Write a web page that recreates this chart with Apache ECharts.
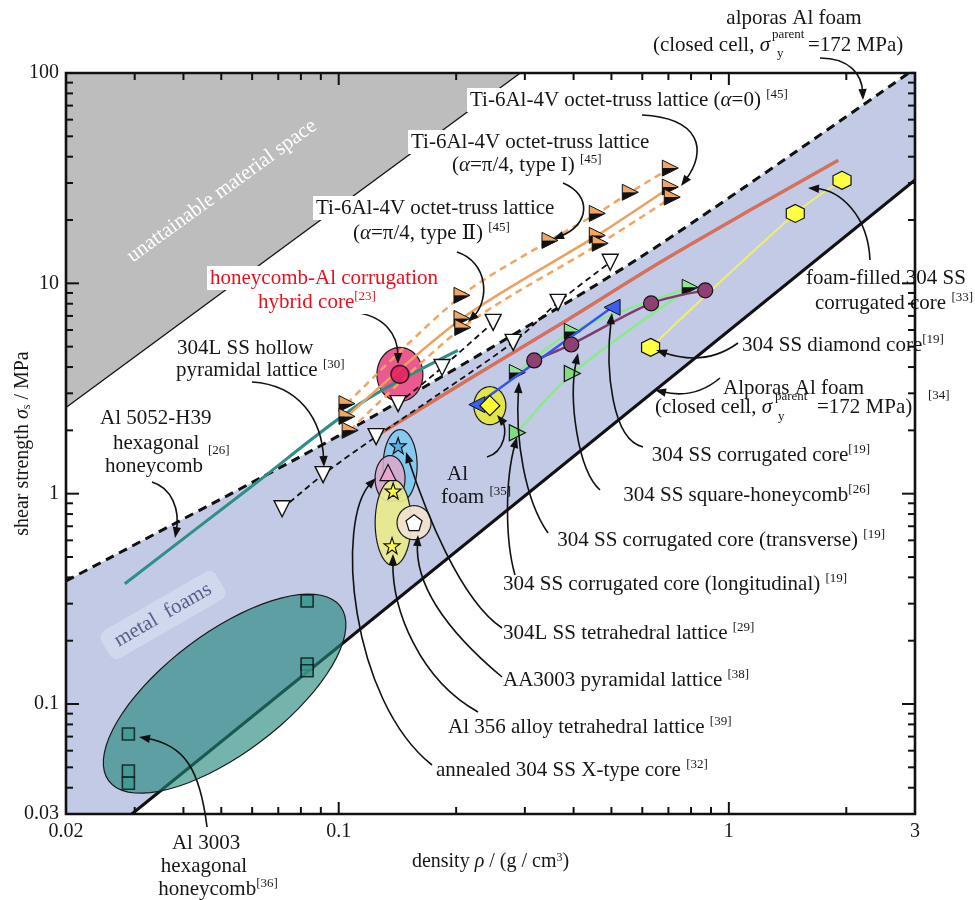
<!DOCTYPE html>
<html>
<head>
<meta charset="utf-8">
<script src="https://cdn.jsdelivr.net/npm/echarts@6/dist/echarts.min.js"></script>
<style>
html, body { margin: 0; padding: 0; background: #fff; }
#chart { width: 975px; height: 900px; }
</style>
</head>
<body>
<div id="chart"></div>
<script>
const SERIF = '"Liberation Serif", "Times New Roman", "DejaVu Serif", serif';
const INK = '#161616';

// ---- axes -------------------------------------------------------------
const densityRange = [0.02, 3];
const strengthRange = [0.03, 100];
const densityTickLabels = [0.02, 0.1, 1, 3];
const strengthTickLabels = [0.03, 0.1, 1, 10, 100];
const densityMajorTicks = [0.1, 1];
const densityMinorTicks = [0.03, 0.04, 0.05, 0.06, 0.07, 0.08, 0.09, 0.2, 0.3, 0.4, 0.5, 0.6, 0.7, 0.8, 0.9, 2];
const strengthMajorTicks = [0.1, 1, 10];
const strengthMinorTicks = [0.04, 0.05, 0.06, 0.07, 0.08, 0.09, 0.2, 0.3, 0.4, 0.5, 0.6, 0.7, 0.8, 0.9,
  2, 3, 4, 5, 6, 7, 8, 9, 20, 30, 40, 50, 60, 70, 80, 90];

// ---- envelopes --------------------------------------------------------
const unattainableEdge = [[0.02, 2.57], [0.292, 100]];
const alporasUpper = [[0.02, 0.385], [0.0259, 0.495], [0.1135, 2.15], [0.593, 13.3], [3, 105]];
const alporasLower = [[0.0295, 0.03], [3, 31]];

// ---- material data (density g/cm3, shear strength MPa) ----------------
const al3003Honeycomb = [[0.0289, 0.072], [0.0289, 0.048], [0.0289, 0.042], [0.083, 0.309], [0.083, 0.155], [0.083, 0.144]];
const al3003Centre = [[0.051, 0.112]];
const al5052Honeycomb = [[0.0283, 0.373], [0.0593, 1.07], [0.1135, 2.68], [0.202, 4.8]];
const hybridCore = [[0.1435, 3.69]];
const tiTypeI = [[0.105, 2.68], [0.207, 8.77], [0.348, 16.0], [0.46, 21.5], [0.559, 27.1], [0.708, 35.3]];
const tiAlpha0 = [[0.105, 2.33], [0.207, 6.81], [0.46, 16.9], [0.708, 28.7]];
const tiTypeII = [[0.107, 2.0], [0.208, 6.17], [0.468, 15.5], [0.716, 25.7]];
const hollowPyramidalA = [[0.0716, 0.848], [0.0912, 1.232], [0.1247, 1.868], [0.28, 5.24], [0.365, 8.12], [0.4965, 12.6]];
const hollowPyramidalB = [[0.142, 2.68], [0.1841, 3.98], [0.2488, 6.52]];
const foamFilledCorrugated = [[0.1218, 1.83], [0.2172, 3.53], [0.376, 6.52], [0.667, 12.6], [1.134, 22.3], [1.908, 38.5]];
const diamondCore = [[0.63, 4.96], [1.48, 21.5], [1.95, 30.9]];
const squareHoneycomb = [[0.317, 4.3], [0.3945, 5.12], [0.632, 8.03], [0.87, 9.26]];
const corrugatedCore = [[0.226, 2.65], [0.502, 7.69]];
const corrugatedTransverse = [[0.287, 3.77], [0.397, 5.91], [0.796, 9.57]];
const corrugatedLongitudinal = [[0.287, 1.95], [0.397, 3.73], [0.796, 9.57]];
const alFoam = [[0.244, 2.62]];
const tetrahedral304L = [[0.142, 1.69]];
const tetrahedral304LCentre = [[0.1437, 1.36]];
const pyramidalAA3003 = [[0.1338, 1.26]];
const pyramidalAA3003Centre = [[0.1354, 1.18]];
const tetrahedralAl356 = [[0.1379, 1.03], [0.137, 0.566]];
const tetrahedralAl356Centre = [[0.1379, 0.728]];
const xTypeCore = [[0.156, 0.728]];

// ---- symbols ----------------------------------------------------------
const STAR = 'path://M0,-10 L2.35,-3.24 9.51,-3.09 3.8,1.24 5.88,8.09 0,4 -5.88,8.09 -3.8,1.24 -9.51,-3.09 -2.35,-3.24 Z';
const PENTAGON = 'path://M0,-10 L9.51,-3.09 5.88,8.09 -5.88,8.09 -9.51,-3.09 Z';
const HEXAGON = 'path://M0,-10 L8.66,-5 8.66,5 0,10 -8.66,5 -8.66,-5 Z';

// drawing layers
const Z_BAND = 1, Z_REGION = 2, Z_LINE = 3, Z_MARK = 4, Z_FRAME = 30;

function ellipsePoints(cx, cy, rx, ry, rotDeg) {
  const a = rotDeg * Math.PI / 180, pts = [];
  for (let k = 0; k < 72; k++) {
    const t = k / 72 * Math.PI * 2;
    const ex = rx * Math.cos(t), ey = ry * Math.sin(t);
    pts.push([cx + ex * Math.cos(a) + ey * Math.sin(a), cy - ex * Math.sin(a) + ey * Math.cos(a)]);
  }
  return pts;
}

function regionSeries(name, centre, look) {
  return {
    name, type: 'custom', silent: true, z: Z_REGION, data: centre,
    renderItem(params, api) {
      const c = api.coord([api.value(0), api.value(1)]);
      return {
        type: 'polygon',
        shape: { points: ellipsePoints(c[0], c[1], look.rx, look.ry, look.rot || 0) },
        style: { fill: look.fill, stroke: '#1a1a1a', lineWidth: look.lw || 1.2 }
      };
    }
  };
}

function splitTriangleSeries(name, points, topColor, half) {
  return {
    name, type: 'custom', silent: true, z: Z_MARK, data: points,
    renderItem(params, api) {
      const p = api.coord([api.value(0), api.value(1)]);
      const x = p[0], y = p[1], w = half, h = half;
      return {
        type: 'group', children: [
          { type: 'polygon', shape: { points: [[x - w, y - h], [x + w, y], [x - w, y]] }, style: { fill: topColor } },
          { type: 'polygon', shape: { points: [[x - w, y], [x + w, y], [x - w, y + h]] }, style: { fill: '#111' } },
          { type: 'polygon', shape: { points: [[x - w, y - h], [x + w, y], [x - w, y + h]] }, style: { fill: 'none', stroke: '#111', lineWidth: 1 } }
        ]
      };
    }
  };
}

function polySeries(name, corners, look) {
  return {
    name, type: 'custom', silent: true, z: Z_BAND, data: [corners[0]],
    renderItem(params, api) {
      return { type: 'polygon', shape: { points: corners.map(c => api.coord(c)) }, style: look };
    }
  };
}

function tickSeries(values, dir, len) {
  return {
    type: 'custom', silent: true, clip: false, z: Z_FRAME,
    data: values.map(v => dir === 'x' ? [v, strengthRange[0]] : [densityRange[0], v]),
    renderItem(params, api) {
      const cs = params.coordSys;
      const p = api.coord([api.value(0), api.value(1)]);
      const st = { stroke: '#111', lineWidth: 2 };
      if (dir === 'x') {
        const b = cs.y + cs.height, t = cs.y;
        return { type: 'group', children: [
          { type: 'line', shape: { x1: p[0], y1: b, x2: p[0], y2: b - len }, style: st },
          { type: 'line', shape: { x1: p[0], y1: t, x2: p[0], y2: t + len }, style: st }] };
      }
      const l = cs.x, r = cs.x + cs.width;
      return { type: 'group', children: [
        { type: 'line', shape: { x1: l, y1: p[1], x2: l + len, y2: p[1] }, style: st },
        { type: 'line', shape: { x1: r, y1: p[1], x2: r - len, y2: p[1] }, style: st }] };
    }
  };
}

function lineSeries(name, data, color, width, extra) {
  return Object.assign({
    name, type: 'line', data, symbol: 'none', smooth: 0.3, silent: true, showAllSymbol: true, z: Z_LINE,
    lineStyle: { color, width }
  }, extra || {});
}

function scatterSeries(name, data, symbol, size, fill, extra) {
  return Object.assign({
    name, type: 'scatter', data, symbol, symbolSize: size, silent: true, z: Z_MARK,
    itemStyle: { color: fill, borderColor: '#111', borderWidth: 1.2, opacity: 1 }
  }, extra || {});
}

// ---- annotation text and arrows ---------------------------------------
function rich(color) {
  return {
    i: { fontStyle: 'italic', fontSize: 21, fontFamily: SERIF, fill: color },
    sup: { fontSize: 13, fontFamily: SERIF, fill: color, verticalAlign: 'top', lineHeight: 13 },
    sub: { fontSize: 13, fontFamily: SERIF, fill: color, verticalAlign: 'bottom', lineHeight: 13 }
  };
}

function label(x, y, text, o) {
  o = o || {};
  const color = o.color || INK;
  const align = o.align || 'left';
  const style = {
    text, fill: color, fontSize: o.size || 21, fontFamily: SERIF, fontStyle: o.italic ? 'italic' : 'normal',
    textAlign: align, align, textVerticalAlign: 'middle', verticalAlign: 'middle',
    lineHeight: o.lineHeight || 24, rich: rich(color)
  };
  if (o.bg) { style.backgroundColor = o.bg; style.padding = o.pad || [0, 3]; if (o.radius) style.borderRadius = o.radius; }
  return { type: 'text', x, y, z: 45, silent: true, rotation: (o.rot || 0) * Math.PI / 180, style };
}

function arrow(p0, c1, c2, p1) {
  const dx = p1[0] - c2[0], dy = p1[1] - c2[1];
  const L = Math.hypot(dx, dy) || 1, ux = dx / L, uy = dy / L;
  const hl = 11, hw = 4.2;
  const bx = p1[0] - ux * hl * 0.7, by = p1[1] - uy * hl * 0.7;
  const hx = p1[0] - ux * hl, hy = p1[1] - uy * hl;
  return [
    { type: 'bezierCurve', z: 44, silent: true,
      shape: { x1: p0[0], y1: p0[1], cpx1: c1[0], cpy1: c1[1], cpx2: c2[0], cpy2: c2[1], x2: bx, y2: by },
      style: { stroke: '#111', lineWidth: 1.6, fill: null } },
    { type: 'polygon', z: 44, silent: true,
      shape: { points: [[p1[0], p1[1]], [hx - uy * hw, hy + ux * hw], [hx + uy * hw, hy - ux * hw]] },
      style: { fill: '#111' } }
  ];
}

const annotations = [
  label(794, 18, 'alporas Al foam', { align: 'center' }),
  label(770, 45, '(closed cell, {i|σ}', { align: 'right' }),
  label(772, 35, 'parent', { size: 13 }),
  label(777, 54, 'y', { size: 13 }),
  label(808, 45, '=172 MPa)'),
  label(467, 100, 'Ti-6Al-4V octet-truss lattice ({i|α}=0) {sup|[45]}', { bg: '#fff' }),
  label(408, 142, 'Ti-6Al-4V octet-truss lattice', { bg: '#fff' }),
  label(452, 165, '({i|α}=π/4, type I) {sup|[45]}'),
  label(313, 208, 'Ti-6Al-4V octet-truss lattice', { bg: '#fff' }),
  label(353, 233, '({i|α}=π/4, type Ⅱ) {sup|[45]}'),
  label(207, 278, 'honeycomb-Al corrugation', { color: '#e8101c', bg: '#fff' }),
  label(255, 302, 'hybrid core{sup|[23]}', { color: '#e8101c', bg: '#fff' }),
  label(177, 348, '304L SS hollow'),
  label(176, 370, 'pyramidal lattice {sup|[30]}'),
  label(100, 418, 'Al 5052-H39'),
  label(113, 443, 'hexagonal'),
  label(208, 451, '[26]', { size: 13 }),
  label(105, 466, 'honeycomb'),
  label(447, 474, 'Al'),
  label(441, 497, 'foam {sup|[35]}'),
  label(806, 278, 'foam-filled 304 SS'),
  label(815, 303, 'corrugated core {sup|[33]}'),
  label(742, 345, '304 SS diamond core{sup|[19]}'),
  label(723, 388, 'Alporas Al foam'),
  label(772, 407, '(closed cell, {i|σ}', { align: 'right' }),
  label(775, 397, 'parent', { size: 13 }),
  label(778, 417, 'y', { size: 13 }),
  label(817, 407, '=172 MPa)'),
  label(928, 396, '[34]', { size: 13 }),
  label(870, 455, '304 SS corrugated core{sup|[19]}', { align: 'right' }),
  label(870, 495, '304 SS square-honeycomb{sup|[26]}', { align: 'right' }),
  label(885, 540, '304 SS corrugated core (transverse) {sup|[19]}', { align: 'right' }),
  label(503, 584, '304 SS corrugated core (longitudinal) {sup|[19]}'),
  label(503, 633, '304L SS tetrahedral lattice {sup|[29]}'),
  label(503, 680, 'AA3003 pyramidal lattice {sup|[38]}'),
  label(448, 727, 'Al 356 alloy tetrahedral lattice {sup|[39]}'),
  label(436, 770, 'annealed 304 SS X-type core {sup|[32]}'),
  label(206, 843, 'Al 3003', { align: 'center' }),
  label(204, 866, 'hexagonal', { align: 'center' }),
  label(218, 889, 'honeycomb{sup|[36]}', { align: 'center' }),
  label(222, 191, 'unattainable material space', { color: '#ffffff', align: 'center', rot: 36 }),
  label(163, 615, 'metal  foams', { color: '#56608a', align: 'center', rot: 30,
    bg: 'rgba(255,255,255,0.25)', pad: [4, 12], radius: 8 })
].concat(
  arrow([820, 58], [850, 58], [862, 75], [863, 100]),
  arrow([642, 115], [700, 118], [708, 150], [681, 186]),
  arrow([563, 183], [592, 195], [590, 225], [553, 239]),
  arrow([457, 252], [488, 262], [490, 300], [468, 322]),
  arrow([352, 312], [385, 315], [398, 335], [398, 364]),
  arrow([252, 382], [300, 385], [322, 420], [324, 467]),
  arrow([152, 482], [172, 488], [180, 510], [175, 538]),
  arrow([487, 457], [505, 452], [508, 428], [497, 415]),
  arrow([870, 260], [868, 215], [840, 190], [808, 188]),
  arrow([738, 343], [712, 362], [685, 360], [656, 350]),
  arrow([720, 378], [700, 395], [680, 396], [655, 390]),
  arrow([643, 447], [612, 440], [605, 370], [612, 313]),
  arrow([600, 490], [578, 470], [568, 400], [578, 353]),
  arrow([548, 533], [525, 500], [515, 440], [519, 382]),
  arrow([515, 575], [505, 540], [505, 480], [517, 437]),
  arrow([502, 628], [460, 600], [425, 510], [406, 452]),
  arrow([502, 677], [440, 625], [415, 580], [418, 535]),
  arrow([478, 712], [420, 680], [392, 610], [393, 554]),
  arrow([432, 765], [350, 700], [335, 520], [376, 478]),
  arrow([207, 827], [200, 770], [185, 745], [139, 737])
);

// ---- chart ------------------------------------------------------------
function tickFormatter(list) {
  return function (v) {
    const hit = list.find(t => Math.abs(Math.log10(t) - Math.log10(v)) < 0.01);
    return hit === undefined ? '' : String(hit);
  };
}

const axisText = { fontFamily: SERIF, fontSize: 20, color: INK };

const option = {
  animation: false,
  backgroundColor: '#ffffff',
  grid: { left: 66, right: 60, top: 73, bottom: 86, containLabel: false, outerBoundsMode: 'none' },
  xAxis: {
    type: 'log', logBase: 10, min: densityRange[0], max: densityRange[1],
    axisLine: { show: false }, axisTick: { show: false }, splitLine: { show: false }, minorTick: { show: false },
    axisLabel: Object.assign({ margin: 8, formatter: tickFormatter(densityTickLabels), showMinLabel: true, showMaxLabel: true }, axisText),
    name: 'density {i|ρ} / (g / cm{sup|3})', nameLocation: 'middle', nameGap: 38, nameMoveOverlap: false,
    nameTextStyle: { fontFamily: SERIF, fontSize: 20, color: INK,
      rich: { i: { fontFamily: SERIF, fontSize: 20, fontStyle: 'italic', color: INK },
              sup: { fontFamily: SERIF, fontSize: 12, color: INK, verticalAlign: 'top', lineHeight: 12 } } }
  },
  yAxis: {
    type: 'log', logBase: 10, min: strengthRange[0], max: strengthRange[1],
    axisLine: { show: false }, axisTick: { show: false }, splitLine: { show: false }, minorTick: { show: false },
    axisLabel: Object.assign({ margin: 7, formatter: tickFormatter(strengthTickLabels), showMinLabel: true, showMaxLabel: true }, axisText),
    name: 'shear strength {i|σ}{sub|s} / MPa', nameLocation: 'middle', nameGap: 33, nameRotate: 90, nameMoveOverlap: false,
    nameTextStyle: { fontFamily: SERIF, fontSize: 20, color: INK,
      rich: { i: { fontFamily: SERIF, fontSize: 20, fontStyle: 'italic', color: INK },
              sub: { fontFamily: SERIF, fontSize: 12, color: INK, verticalAlign: 'bottom', lineHeight: 12 } } }
  },
  graphic: { elements: annotations },
  series: [
    // closed-cell foam band: dashed upper envelope filled down to the axis
    lineSeries('alporas upper', alporasUpper, '#111', 3, {
      z: Z_BAND, smooth: 0.25, lineStyle: { color: '#111', width: 3, type: [9, 6] },
      areaStyle: { color: '#c2cae6', origin: 'start', opacity: 1 }
    }),
    polySeries('below lower bound', [alporasLower[0], alporasLower[1], [densityRange[1], strengthRange[0]]], { fill: '#ffffff' }),
    lineSeries('alporas lower', alporasLower, '#111', 3, { smooth: false, z: Z_BAND }),
    polySeries('unattainable', [[densityRange[0], strengthRange[1]], unattainableEdge[0], unattainableEdge[1]],
      { fill: '#bdbdbd' }),
    lineSeries('unattainable edge', unattainableEdge, '#111', 1.3, { smooth: false, z: Z_BAND }),

    // shaded regions
    regionSeries('Al 3003 region', al3003Centre, { rx: 145, ry: 60, rot: 37, fill: 'rgba(33,132,123,0.62)' }),
    regionSeries('hybrid region', hybridCore, { rx: 23, ry: 27, fill: '#ea5a8e' }),
    regionSeries('Al foam region', alFoam, { rx: 16, ry: 19, fill: '#e4e44c' }),
    regionSeries('304L tetra region', tetrahedral304LCentre, { rx: 17, ry: 36, fill: 'rgba(130,200,238,0.95)' }),
    regionSeries('AA3003 region', pyramidalAA3003Centre, { rx: 15, ry: 23, fill: 'rgba(218,168,200,0.85)' }),
    regionSeries('Al 356 region', tetrahedralAl356Centre, { rx: 18, ry: 43, fill: 'rgba(234,234,140,0.92)' }),
    regionSeries('X-type region', xTypeCore, { rx: 17, ry: 17, fill: 'rgba(240,226,208,0.95)' }),

    // trend lines
    lineSeries('Al 5052-H39', al5052Honeycomb, '#2f8f86', 3),
    lineSeries('Ti type I', tiTypeI, '#f2a460', 2.5, { lineStyle: { color: '#f2a460', width: 2.5, type: [7, 5] } }),
    lineSeries('Ti alpha 0', tiAlpha0, '#eea060', 2.5),
    lineSeries('Ti type II', tiTypeII, '#f2a460', 2.5, { lineStyle: { color: '#f2a460', width: 2.5, type: [7, 5] } }),
    lineSeries('foam-filled corrugated', foamFilledCorrugated, '#d4705c', 3.5),
    lineSeries('diamond core', diamondCore, '#f2ee6a', 2),
    lineSeries('corrugated transverse', corrugatedTransverse, '#8fe88f', 2.5),
    lineSeries('corrugated longitudinal', corrugatedLongitudinal, '#8fe88f', 2.5),
    lineSeries('square honeycomb', squareHoneycomb, '#7d3c6f', 2.5, { z: Z_MARK,
      symbol: 'circle', symbolSize: 15, itemStyle: { color: '#8e4072', borderColor: '#111', borderWidth: 1.2 } }),
    lineSeries('corrugated core', corrugatedCore, '#3355ee', 2.5, { smooth: false, z: Z_MARK,
      symbol: 'triangle', symbolRotate: 90, symbolSize: 16, itemStyle: { color: '#3a5ff0', borderColor: '#111', borderWidth: 1 } }),
    lineSeries('hollow pyramidal A', hollowPyramidalA, '#111', 1.8, { z: Z_MARK,
      lineStyle: { color: '#111', width: 1.8, type: [6, 4] },
      symbol: 'triangle', symbolRotate: 180, symbolSize: 16, itemStyle: { color: '#fff', borderColor: '#111', borderWidth: 1.4 } }),
    lineSeries('hollow pyramidal B', hollowPyramidalB, '#111', 1.8, { z: Z_MARK,
      lineStyle: { color: '#111', width: 1.8, type: [6, 4] },
      symbol: 'triangle', symbolRotate: 180, symbolSize: 16, itemStyle: { color: '#fff', borderColor: '#111', borderWidth: 1.4 } }),

    // point markers
    scatterSeries('Al 3003 hexagonal honeycomb', al3003Honeycomb, 'rect', 12, '#3b9a92', { itemStyle: { color: '#3b9a92', borderColor: '#111', borderWidth: 1.6 } }),
    scatterSeries('hybrid core', hybridCore, 'circle', 18, '#e5195c', { itemStyle: { color: '#e5195c', borderColor: '#111', borderWidth: 1.6 } }),
    splitTriangleSeries('Ti type I markers', tiTypeI, '#f2a460', 8),
    splitTriangleSeries('Ti alpha 0 markers', tiAlpha0, '#f2a460', 8),
    splitTriangleSeries('Ti type II markers', tiTypeII, '#f2a460', 8),
    scatterSeries('diamond core markers', diamondCore, HEXAGON, 18, '#ffff44'),
    scatterSeries('longitudinal markers', corrugatedLongitudinal.slice(0, 2), 'triangle', 16, '#7fdc7f', { symbolRotate: -90 }),
    splitTriangleSeries('transverse markers', corrugatedTransverse, '#8fe88f', 8),
    scatterSeries('Al foam', alFoam, 'diamond', 20, '#ffff33'),
    scatterSeries('304L tetrahedral', tetrahedral304L, STAR, 16, '#58aee6'),
    scatterSeries('AA3003 pyramidal', pyramidalAA3003, 'triangle', 16, '#eaa6cc'),
    scatterSeries('Al 356 tetrahedral', tetrahedralAl356, STAR, 16, '#ffff44'),
    scatterSeries('X-type core', xTypeCore, PENTAGON, 16, '#ffffff'),

    // frame and ticks
    {
      type: 'custom', silent: true, clip: false, z: Z_FRAME, data: [[densityRange[0], strengthRange[0]]],
      renderItem(params) {
        const cs = params.coordSys;
        return { type: 'rect', shape: { x: cs.x, y: cs.y, width: cs.width, height: cs.height },
          style: { fill: 'none', stroke: '#111', lineWidth: 2.6 } };
      }
    },
    tickSeries(densityMajorTicks, 'x', 12),
    tickSeries(densityMinorTicks, 'x', 7),
    tickSeries(strengthMajorTicks, 'y', 13),
    tickSeries(strengthMinorTicks, 'y', 7)
  ]
};

const chart = echarts.init(document.getElementById('chart'), null, { renderer: 'canvas' });
chart.setOption(option);
</script>
</body>
</html>
